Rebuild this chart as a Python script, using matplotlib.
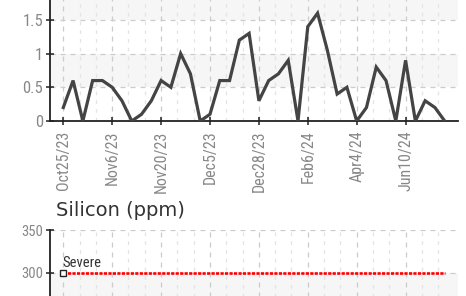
import matplotlib
matplotlib.use("Agg")
import matplotlib.pyplot as plt
from matplotlib import font_manager
from matplotlib.ticker import MultipleLocator

# pick a condensed face for tick labels if one is installed
narrow = None
for f in font_manager.fontManager.ttflist:
    if f.name in ("Liberation Sans Narrow", "Roboto Condensed", "Open Sans Condensed"):
        narrow = {"family": f.name}
        break
if narrow is None:
    for f in font_manager.fontManager.ttflist:
        if f.name == "DejaVu Sans" and f.stretch == "condensed":
            narrow = {"family": "DejaVu Sans", "stretch": "condensed"}
            break
if narrow is None:
    narrow = {"family": "DejaVu Sans", "stretch": "normal"}

# top chart values (one per sample), labels every 5th sample
values = [0.2, 0.6, 0, 0.6, 0.6, 0.5, 0.3, 0, 0.1, 0.3,
          0.6, 0.5, 1.0, 0.7, 0, 0.1, 0.6, 0.6, 1.2, 1.3,
          0.3, 0.6, 0.7, 0.9, 0, 1.4, 1.6, 1.05, 0.4, 0.5,
          0, 0.2, 0.8, 0.6, 0, 0.9, 0, 0.3, 0.2, 0]
tick_labels = ["Oct25/23", "Nov6/23", "Nov20/23", "Dec5/23",
               "Dec28/23", "Feb6/24", "Apr4/24", "Jun10/24"]
label_step = 5

# bottom chart: silicon limit line
silicon_title = "Silicon (ppm)"
silicon_ticks = [300, 350]
severe_level = 300
severe_label = "Severe"

W, H = 466, 296
fig = plt.figure(figsize=(W / 100, H / 100), dpi=100)

x = list(range(len(values)))
xlim = (-1.36, 40.36)
left = 50 / W
width = (458 - 50) / W


def set_narrow(labels, size):
    for t in labels:
        t.set_family(narrow["family"])
        if "stretch" in narrow:
            t.set_stretch(narrow["stretch"])
        t.set_size(size)


def style_axes(ax, ymax, ystep, band_step):
    ax.set_xlim(*xlim)
    # alternating faint bands
    y0 = 0
    k = 0
    while y0 < ymax:
        if k % 2 == 1:
            ax.axhspan(y0, y0 + band_step, color="#f6f6f6", zorder=0, lw=0)
        y0 += band_step
        k += 1
    for s in ["top", "right"]:
        ax.spines[s].set_visible(False)
    for s in ["left", "bottom"]:
        ax.spines[s].set_color("#222222")
        ax.spines[s].set_linewidth(1.3)
    ax.yaxis.set_major_locator(MultipleLocator(ystep))
    ax.set_xticks(x[::label_step])
    ax.set_xticklabels(tick_labels, rotation=90)
    ax.tick_params(axis="both", direction="inout", length=6, width=1.1,
                   color="#222222", labelcolor="#888888")
    ax.tick_params(axis="x", pad=4)
    ax.tick_params(axis="y", pad=2)
    ax.grid(True, axis="both", color="#cccccc", linestyle=(0, (4, 4)), lw=0.9)
    # minor vertical grid: three per label step
    for i in range(len(tick_labels) * 3 + 3):
        xv = (i - 1) * label_step / 3
        if i % 3 != 1 and xlim[0] < xv < xlim[1]:
            ax.axvline(xv, color="#e4e4e4", linestyle=(0, (3, 4)), lw=0.9, zorder=0.5)
    ax.set_axisbelow(True)


# top axes
y0px = 121
ppu = 67.4
ax1 = fig.add_axes([left, (H - y0px) / H, width, 2 * ppu / H])
style_axes(ax1, 2.0, 0.5, 0.5)
ax1.set_ylim(0, 2)
ax1.set_yticks([0, 0.5, 1, 1.5])
ax1.set_yticklabels(["0", "0.5", "1", "1.5"])
set_narrow(ax1.get_xticklabels(), 11.5)
set_narrow(ax1.get_yticklabels(), 12)
ax1.plot(x, values, color="#444444", lw=2.3, solid_joinstyle="miter", zorder=3)

# bottom axes
top_px = 230
ppu2 = 43 / 50
ax2 = fig.add_axes([left, (H - top_px - 350 * ppu2) / H, width, 350 * ppu2 / H])
style_axes(ax2, 350, 50, 50)
ax2.set_ylim(0, 350)
ax2.set_yticks(silicon_ticks)
ax2.tick_params(axis="x", labelbottom=False)
set_narrow(ax2.get_yticklabels(), 10.5)
ax2.plot([x[0], x[-1]], [severe_level, severe_level], color="#ff0000",
         lw=1.9, linestyle=(0, (1.2, 0.5)), zorder=3)
ax2.plot([x[0]], [severe_level], marker="s", ms=4, mfc="white", mec="#222222",
         mew=1, zorder=4)
sev = ax2.annotate(severe_label, (x[0], severe_level), xytext=(-1, 2),
                   textcoords="offset points", ha="left", va="bottom",
                   color="#333333")
set_narrow([sev], 10.5)
fig.text(56 / W, (H - 216) / H, silicon_title, fontsize=14, color="#333333",
         family="DejaVu Sans", ha="left", va="baseline")

fig.savefig("out.png", dpi=100)
